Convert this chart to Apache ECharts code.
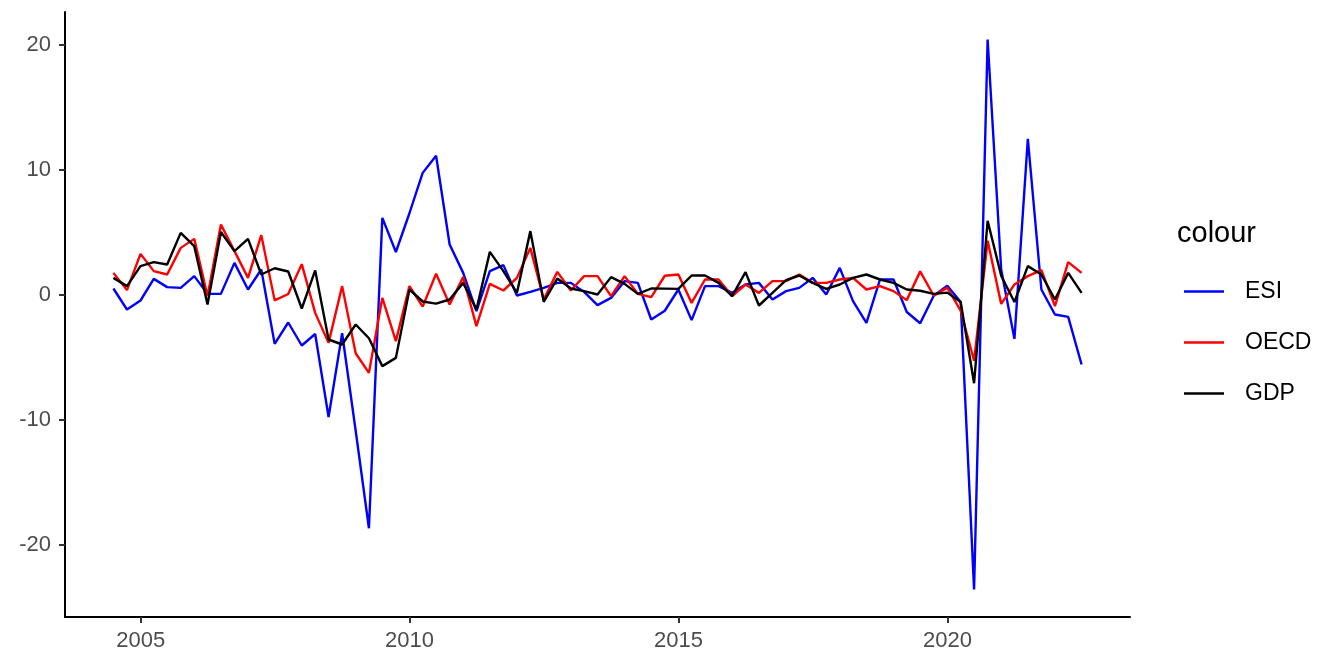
<!DOCTYPE html>
<html>
<head>
<meta charset="utf-8">
<script src="https://cdn.jsdelivr.net/npm/echarts@6/dist/echarts.min.js"></script>
<style>
  html, body { margin: 0; padding: 0; background: #fff; }
  #root { width: 1333px; height: 658px; }
</style>
</head>
<body>
<div id="root"></div>
<script>
// quarter-end dates
const quarters = [
  '2004-06-30', '2004-09-30', '2004-12-31',
  '2005-03-31', '2005-06-30', '2005-09-30', '2005-12-31',
  '2006-03-31', '2006-06-30', '2006-09-30', '2006-12-31',
  '2007-03-31', '2007-06-30', '2007-09-30', '2007-12-31',
  '2008-03-31', '2008-06-30', '2008-09-30', '2008-12-31',
  '2009-03-31', '2009-06-30', '2009-09-30', '2009-12-31',
  '2010-03-31', '2010-06-30', '2010-09-30', '2010-12-31',
  '2011-03-31', '2011-06-30', '2011-09-30', '2011-12-31',
  '2012-03-31', '2012-06-30', '2012-09-30', '2012-12-31',
  '2013-03-31', '2013-06-30', '2013-09-30', '2013-12-31',
  '2014-03-31', '2014-06-30', '2014-09-30', '2014-12-31',
  '2015-03-31', '2015-06-30', '2015-09-30', '2015-12-31',
  '2016-03-31', '2016-06-30', '2016-09-30', '2016-12-31',
  '2017-03-31', '2017-06-30', '2017-09-30', '2017-12-31',
  '2018-03-31', '2018-06-30', '2018-09-30', '2018-12-31',
  '2019-03-31', '2019-06-30', '2019-09-30', '2019-12-31',
  '2020-03-31', '2020-06-30', '2020-09-30', '2020-12-31',
  '2021-03-31', '2021-06-30', '2021-09-30', '2021-12-31',
  '2022-03-31', '2022-06-30'
]

const esi = [
  0.48, -1.2, -0.48,
  1.25, 0.59, 0.53, 1.47,
  0.05, 0.05, 2.53, 0.4,
  2.0, -3.95, -2.24, -4.08,
  -3.16, -9.8, -3.1, -10.9,
  -18.7, 6.13, 3.4, 6.5,
  9.73, 11.1, 4.0, 1.73,
  -1.33, 1.87, 2.35, -0.08,
  0.21, 0.53, 0.93, 0.93,
  0.21, -0.85, -0.27, 1.07,
  0.93, -2.0, -1.3, 0.4,
  -2.05, 0.67, 0.67, 0.13,
  0.8, 0.93, -0.4, 0.27,
  0.53, 1.33, 0, 2.13,
  -0.53, -2.27, 1.2, 1.2,
  -1.4, -2.3, -0.1, 0.7,
  -0.6, -23.6, 20.4, 2.0,
  -3.55, 12.45, 0.4, -1.6,
  -1.79, -5.6
]

const oecd = [
  1.73, 0.35, 3.25,
  1.87, 1.6, 3.73, 4.45,
  -0.13, 5.6, 3.47, 1.33,
  4.75, -0.47, 0.04, 2.43,
  -1.47, -3.87, 0.67, -4.7,
  -6.27, -0.27, -3.73, 0.67,
  -0.97, 1.66, -0.8, 1.39,
  -2.53, 0.85, 0.32, 1.33,
  3.73, -0.4, 1.81, 0.32,
  1.47, 1.47, -0.13, 1.47,
  0.05, -0.21, 1.5, 1.6,
  -0.67, 1.2, 1.2, -0.13,
  0.8, 0.13, 1.07, 1.07,
  1.6, 0.93, 0.93, 1.2,
  1.33, 0.4, 0.67, 0.27,
  -0.45, 1.85, -0.1, 0.55,
  -1.3, -5.3, 4.3, -0.75,
  0.8, 1.47, 1.95, -0.93,
  2.59, 1.73
]

const gdp = [
  1.33, 0.67, 2.27,
  2.59, 2.4, 4.93, 3.87,
  -0.8, 5.0, 3.47, 4.45,
  1.6, 2.1, 1.84, -1.12,
  1.93, -3.6, -4.0, -2.4,
  -3.5, -5.73, -5.07, 0.4,
  -0.56, -0.73, -0.4, 0.93,
  -1.2, 3.41, 1.87, 0.13,
  5.07, -0.59, 1.28, 0.48,
  0.27, 0, 1.39, 0.85,
  0.05, 0.48, 0.47, 0.45,
  1.52, 1.52, 0.93, -0.13,
  1.79, -0.88, 0.13, 1.15,
  1.52, 0.93, 0.45, 0.8,
  1.33, 1.6, 1.2, 0.93,
  0.4, 0.3, 0.05, 0.15,
  -0.6, -7.1, 5.9, 1.5,
  -0.6, 2.27, 1.6, -0.4,
  1.73, 0.13
]

const seriesNames = ['ESI', 'OECD', 'GDP']
const seriesColors = ['#0000FF', '#FF0000', '#000000']
const xTicks = ['2005-01-01', '2010-01-01', '2015-01-01', '2020-01-01']
const yTicks = [-20, -10, 0, 10, 20]

const chart = echarts.init(document.getElementById('root'))

// ggplot style 5% padding on both sides
const pad = (v) => (v.max - v.min) * 0.05

const xTickMs = xTicks.map(d => Date.parse(d))

const allData = [esi, oecd, gdp]
const series = allData.map((vals, k) => ({
  name: seriesNames[k],
  type: 'line',
  data: quarters.map((d, i) => [Date.parse(d), vals[i]]),
  showSymbol: false,
  symbol: 'none',
  color: seriesColors[k],
  lineStyle: { width: 2.4, color: seriesColors[k] },
  animation: false
}))

const option = {
  animation: false,
  textStyle: { fontFamily: 'Liberation Sans, Arial, sans-serif' },
  grid: { left: 65, right: 203, top: 12, bottom: 41, containLabel: false },
  title: {
    text: 'colour',
    left: 1172,
    top: 214,
    textStyle: { fontSize: 29, fontWeight: 'normal', color: '#000', fontFamily: 'Liberation Sans' }
  },
  legend: {
    orient: 'vertical',
    left: 1179,
    top: 275,
    icon: 'rect',
    itemWidth: 40,
    itemHeight: 2.4,
    itemGap: 28,
    data: seriesNames,
    textStyle: { fontSize: 23, color: '#000', padding: [0, 0, 0, 16], fontFamily: 'Liberation Sans' }
  },
  xAxis: {
    type: 'value',
    scale: true,
    min: (v) => v.min - pad(v),
    max: (v) => v.max + pad(v),
    axisLine: { onZero: false, lineStyle: { color: '#000', width: 2 } },
    axisTick: { customValues: xTickMs, length: 6, lineStyle: { color: '#333', width: 2 } },
    axisLabel: {
      customValues: xTickMs,
      formatter: (v) => String(new Date(v).getFullYear()),
      color: '#4D4D4D',
      fontSize: 22,
      margin: 13
    },
    splitLine: { show: false }
  },
  yAxis: {
    type: 'value',
    min: (v) => v.min - pad(v),
    max: (v) => v.max + pad(v),
    axisLine: { show: true, onZero: false, lineStyle: { color: '#000', width: 2 } },
    axisTick: { show: true, customValues: yTicks, length: 6, lineStyle: { color: '#333', width: 2 } },
    axisLabel: { customValues: yTicks, color: '#4D4D4D', fontSize: 22, margin: 14 },
    splitLine: { show: false }
  },
  series: series
}

chart.setOption(option)
</script>
</body>
</html>
